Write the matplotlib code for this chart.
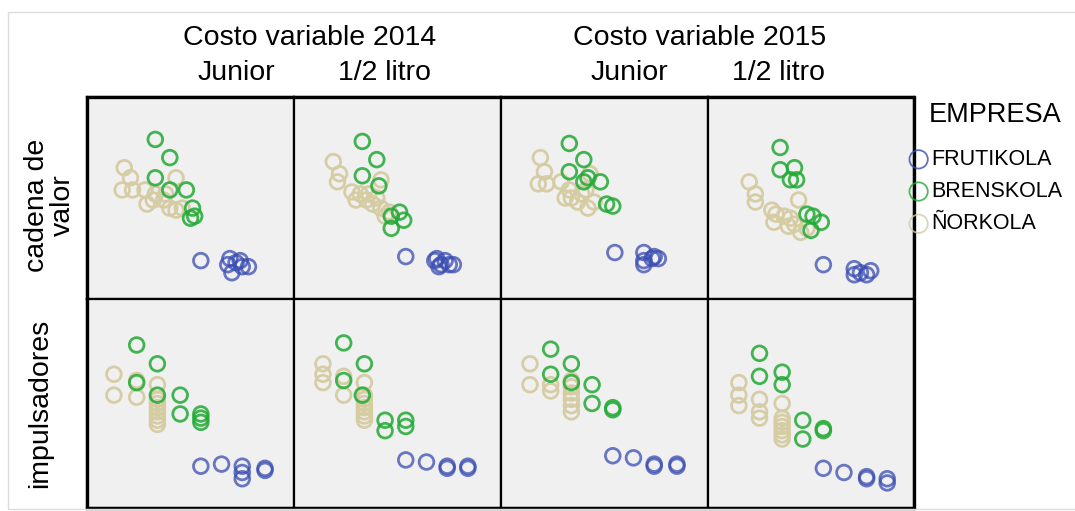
import matplotlib
matplotlib.use("Agg")
import matplotlib.pyplot as plt
from matplotlib.patches import Rectangle

# ---------------- data (panel-relative units, 0-100) ----------------
companies = ["FRUTIKOLA", "BRENSKOLA", "ÑORKOLA"]
legend_title = "EMPRESA"
col_groups = ["Costo variable 2014", "Costo variable 2015"]
col_sub = ["Junior", "1/2 litro"]
row_labels = ["cadena de\nvalor", "impulsadores"]

# Row 1: cadena de valor
cv_14j_fru = [(55, 19), (69, 20), (70, 13), (72, 18), (75, 16), (78, 16), (68, 17), (74, 19)]
cv_14j_bre = [(33, 79), (40, 70), (33, 60), (48, 54), (40, 54), (51, 45), (52, 41), (50, 40)]
cv_14j_nor = [(18, 65), (21, 60), (17, 54), (22, 54), (28, 54), (43, 60), (29, 47), (33, 52),
              (37, 49), (40, 45), (43, 44), (46, 45), (32, 49), (38, 52)]

cv_14l_fru = [(54, 21), (69, 20), (71, 17), (75, 17), (77, 17), (70, 16), (73, 19), (68, 19)]
cv_14l_bre = [(33, 78), (40, 69), (33, 61), (41, 56), (51, 43), (53, 39), (47, 35), (47, 41)]
cv_14l_nor = [(19, 68), (22, 62), (21, 58), (42, 59), (28, 53), (32, 52), (30, 49), (35, 49),
              (38, 47), (42, 45), (44, 41), (46, 43), (36, 52), (40, 50)]

cv_15j_fru = [(55, 23), (69, 23), (69, 19), (73, 20), (76, 20), (69, 17), (74, 21)]
cv_15j_bre = [(33, 77), (40, 69), (33, 63), (48, 58), (40, 58), (51, 47), (54, 46), (42, 60)]
cv_15j_nor = [(19, 70), (21, 63), (18, 57), (22, 57), (29, 58), (43, 62), (31, 50), (34, 50),
              (39, 52), (42, 45), (45, 48), (37, 48), (41, 54), (33, 54)]

cv_15l_fru = [(56, 17), (71, 15), (74, 13), (77, 12), (71, 12), (79, 14)]
cv_15l_bre = [(35, 75), (35, 64), (42, 65), (40, 59), (43, 59), (48, 42), (51, 41), (55, 38), (50, 34)]
cv_15l_nor = [(20, 58), (23, 52), (23, 48), (44, 49), (31, 44), (33, 42), (37, 41), (40, 40),
              (42, 37), (45, 33), (48, 35), (32, 38), (39, 36)]

# Row 2: impulsadores
im_14j_fru = [(55, 20), (65, 21), (75, 20), (75, 17), (75, 14), (86, 18), (86, 19)]
im_14j_bre = [(24, 78), (34, 69), (24, 60), (34, 54), (45, 54), (45, 45), (55, 45), (55, 41), (55, 43)]
im_14j_nor = [(13, 64), (13, 54), (24, 53), (24, 61), (34, 59), (34, 52), (34, 50), (34, 48),
              (34, 46), (34, 44), (34, 42), (34, 40)]

im_14l_fru = [(54, 23), (64, 22), (74, 20), (74, 19), (84, 19), (84, 20)]
im_14l_bre = [(24, 79), (34, 69), (24, 61), (33, 54), (44, 42), (44, 37), (54, 42), (54, 39)]
im_14l_nor = [(14, 69), (14, 64), (14, 60), (24, 63), (24, 54), (34, 60), (34, 54), (34, 52),
              (34, 50), (34, 48), (34, 46), (34, 44), (34, 42)]

im_15j_fru = [(54, 25), (64, 24), (74, 21), (85, 21), (74, 20), (85, 20)]
im_15j_bre = [(24, 76), (34, 69), (24, 64), (34, 60), (44, 59), (44, 50), (54, 48), (54, 47)]
im_15j_nor = [(14, 69), (14, 59), (24, 59), (24, 56), (34, 61), (34, 58), (34, 55), (34, 52),
              (34, 49), (34, 46)]

im_15l_fru = [(56, 19), (66, 17), (77, 15), (77, 14), (87, 14), (87, 12)]
im_15l_bre = [(25, 74), (25, 63), (36, 65), (36, 59), (46, 42), (46, 33), (56, 38), (56, 37)]
im_15l_nor = [(15, 60), (15, 54), (15, 49), (25, 52), (25, 46), (25, 43), (36, 50), (36, 43),
              (36, 41), (36, 39), (36, 37), (36, 35), (36, 33)]

panels = [
    [(cv_14j_fru, cv_14j_bre, cv_14j_nor), (cv_14l_fru, cv_14l_bre, cv_14l_nor),
     (cv_15j_fru, cv_15j_bre, cv_15j_nor), (cv_15l_fru, cv_15l_bre, cv_15l_nor)],
    [(im_14j_fru, im_14j_bre, im_14j_nor), (im_14l_fru, im_14l_bre, im_14l_nor),
     (im_15j_fru, im_15j_bre, im_15j_nor), (im_15l_fru, im_15l_bre, im_15l_nor)],
]

# ---------------- style ----------------
colors = ["#3a4db2", "#22aa35", "#d5cca2"]
alphas = [0.75, 0.85, 0.95]
FONT = "Liberation Sans"
plt.rcParams["font.family"] = [FONT, "DejaVu Sans"]

W, H = 1075, 511
fig = plt.figure(figsize=(W / 100, H / 100), dpi=100)
fig.patch.set_facecolor("white")

xe = [87, 294, 501, 708, 914]
ye = [97, 299, 508]

def fx(px):
    return px / W

def fy(py):
    return 1 - py / H

handles = [None] * 3
for r in range(2):
    for c in range(4):
        x0, x1 = xe[c], xe[c + 1]
        y0, y1 = ye[r], ye[r + 1]
        ax = fig.add_axes([fx(x0), fy(y1), (x1 - x0) / W, (y1 - y0) / H])
        ax.set_facecolor("#f0f0f0")
        ax.set_xlim(0, 100)
        ax.set_ylim(0, 100)
        ax.set_xticks([])
        ax.set_yticks([])
        for sp in ax.spines.values():
            sp.set_linewidth(1.6)
            sp.set_color("black")
        for k in [2, 1, 0]:
            pts = panels[r][c][k]
            xs = [p[0] for p in pts]
            ys = [p[1] for p in pts]
            h = ax.scatter(xs, ys, s=112, facecolors="none", edgecolors=colors[k],
                           linewidths=2.0, alpha=alphas[k], label=companies[k])
            handles[k] = h

# outer thick border
fig.add_artist(Rectangle((fx(xe[0]), fy(ye[2])), (xe[-1] - xe[0]) / W, (ye[2] - ye[0]) / H,
                         transform=fig.transFigure, fill=False, lw=2.4, ec="black"))
# faint outer frame
fig.add_artist(Rectangle((fx(8), fy(509)), (W - 8) / W + 0.01, (509 - 12) / H,
                         transform=fig.transFigure, fill=False, lw=1.0, ec="#dcdcdc"))

# column headers
fs = 20.5
fig.text(fx(310), fy(38), col_groups[0], ha="center", va="center", fontsize=fs, family=FONT)
fig.text(fx(700), fy(38), col_groups[1], ha="center", va="center", fontsize=fs, family=FONT)
for cx, lab in zip([236, 384, 629, 778], col_sub * 2):
    fig.text(fx(cx), fy(73), lab, ha="center", va="center", fontsize=fs, family=FONT)

# row labels
fig.text(fx(50), fy(205), row_labels[0], ha="center", va="center", rotation=90,
         fontsize=fs, family=FONT, linespacing=0.95)
fig.text(fx(40), fy(403), row_labels[1], ha="center", va="center", rotation=90,
         fontsize=fs, family=FONT)

# legend
fig.text(fx(929), fy(115), legend_title, ha="left", va="center", fontsize=19.5, family=FONT)
leg = fig.legend(handles, companies, loc="upper left",
                 bbox_to_anchor=(fx(910), fy(149)), frameon=False, fontsize=15.5,
                 handlelength=0.8, handletextpad=0.2,
                 labelspacing=0.52, borderpad=0, borderaxespad=0, markerscale=1.25)
for lh in leg.legend_handles:
    lh.set_alpha(0.8)
    lh.set_linewidth(1.3)

fig.savefig("out.png", dpi=100, facecolor="white")
